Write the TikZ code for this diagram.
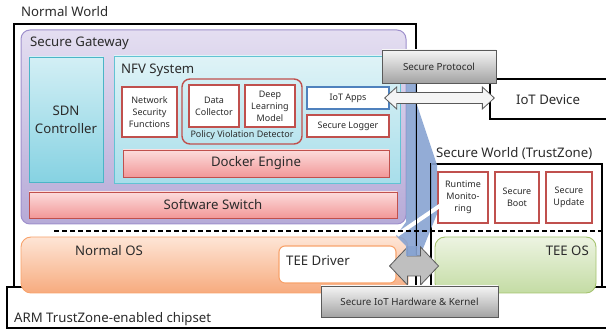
\documentclass[tikz,border=0pt]{standalone}
\usepackage{fontspec}
\setmainfont{Noto Sans}
\usetikzlibrary{calc}
\definecolor{textc}{HTML}{2B2B2B}
\definecolor{redc}{HTML}{C0504D}
\definecolor{bluec}{HTML}{4F81BD}
\definecolor{gwtop}{HTML}{E4DEF1}
\definecolor{gwbot}{HTML}{B6AAD7}
\definecolor{gwdraw}{HTML}{9E90CC}
\definecolor{sdntop}{HTML}{D3EFF5}
\definecolor{sdnbot}{HTML}{86D2E2}
\definecolor{sdndraw}{HTML}{4BB5C7}
\definecolor{nfvtop}{HTML}{DFF3F7}
\definecolor{nfvbot}{HTML}{A8DEEA}
\definecolor{nfvdraw}{HTML}{62C3D3}
\definecolor{pinktop}{HTML}{FCDCDC}
\definecolor{pinkbot}{HTML}{F29898}
\definecolor{ostop}{HTML}{FEE5D6}
\definecolor{osbot}{HTML}{F7AB7E}
\definecolor{osdraw}{HTML}{F8A36C}
\definecolor{greentop}{HTML}{EDF4E2}
\definecolor{greenbot}{HTML}{C4DCA4}
\definecolor{greendraw}{HTML}{A5C36F}
\definecolor{graytop}{HTML}{F5F5F5}
\definecolor{graybot}{HTML}{A3A3A3}
\definecolor{graydraw}{HTML}{5A5A5A}
\definecolor{bandc}{HTML}{87A3D1}
\begin{document}
\begin{tikzpicture}[x=1pt,y=-1pt,
  bigfont/.style={font=\fontsize{13.2}{18}\selectfont},
  smallfont/.style={font=\fontsize{9}{12}\selectfont},
  lbl/.style={bigfont, text=textc, inner sep=0pt},
  frame/.style={draw=black, line width=1.3pt, inner sep=0pt},
  redbox/.style={draw=redc, line width=1.4pt, fill=white, inner sep=0pt, align=center, smallfont, text=textc},
  graybox/.style={draw=graydraw, line width=0.8pt, top color=graytop, bottom color=graybot, inner sep=0pt, font=\fontsize{9.8}{12}\selectfont, text=textc},
  pinkbox/.style={draw=redc, line width=0.9pt, top color=pinktop, bottom color=pinkbot, inner sep=0pt, bigfont, text=textc}
]
\path[use as bounding box] (0,0) rectangle (606,331);
\clip (0,0) rectangle (606,331);

% frames
\node[frame, minimum width=613pt, minimum height=41pt] (chip) at (313.5,307.5) {};
\node[frame, minimum width=402pt, minimum height=263pt] (nw) at (215,155.5) {};
\node[frame, minimum width=171pt, minimum height=123pt] (sw) at (516.5,225.5) {};
\node[frame, fill=white, minimum width=130pt, minimum height=40pt] (iotdev) at (555,99) {};
\node[lbl, anchor=base] (iotdevtxt) at (548,105) {IoT Device};
\node[lbl, anchor=base west] (nwlbl) at (21,17) {Normal World};
\node[lbl, anchor=base west] (swlbl) at (436,158) {Secure World (TrustZone)};
\node[lbl, anchor=base west] (chiplbl) at (14,323) {ARM TrustZone-enabled chipset};

% secure gateway
\node[draw=gwdraw, line width=1pt, top color=gwtop, bottom color=gwbot, rounded corners=9pt, minimum width=385pt, minimum height=194pt, inner sep=0pt] (gw) at (213.5,127) {};
\node[lbl, anchor=base west] (gwlbl) at (30,47) {Secure Gateway};
\node[draw=sdndraw, line width=0.9pt, top color=sdntop, bottom color=sdnbot, minimum width=74pt, minimum height=125pt, inner sep=0pt, align=center, bigfont, text=textc] (sdn) at (66,119.5) {SDN\\Controller};
\node[draw=nfvdraw, line width=0.9pt, top color=nfvtop, bottom color=nfvbot, minimum width=286pt, minimum height=127pt, inner sep=0pt] (nfv) at (257,119.5) {};
\node[lbl, anchor=base west] (nfvlbl) at (121,74) {NFV System};
\node[redbox, minimum width=55pt, minimum height=50pt] (nsf) at (149.5,112) {Network\\Security\\Functions};
\node[draw=redc, line width=1.4pt, rounded corners=8pt, minimum width=120pt, minimum height=65pt, inner sep=0pt] (pvd) at (242,111.5) {};
\node[smallfont, text=textc, inner sep=0pt] (pvdlbl) at (242,135) {Policy Violation Detector};
\node[redbox, minimum width=50pt, minimum height=42pt] (dc) at (214,106) {Data\\Collector};
\node[redbox, minimum width=50pt, minimum height=42pt] (dlm) at (270,106) {Deep\\Learning\\Model};
\node[redbox, draw=bluec, minimum width=82pt, minimum height=22pt] (iotapps) at (348,98) {IoT Apps};
\node[redbox, minimum width=82pt, minimum height=22pt] (logger) at (348,126) {Secure Logger};
\node[pinkbox, minimum width=266pt, minimum height=27pt] (docker) at (256,163.5) {Docker Engine};
\node[pinkbox, minimum width=368pt, minimum height=26pt] (switch) at (213,205) {Software Switch};

% OS layer
\node[draw=osdraw, line width=0.9pt, top color=ostop, bottom color=osbot, rounded corners=10pt, minimum width=387pt, minimum height=56pt, inner sep=0pt] (nos) at (214.5,265) {};
\node[lbl, anchor=base west] (noslbl) at (75,256) {Normal OS};
\node[draw=osdraw, line width=1.1pt, fill=white, rounded corners=6pt, minimum width=117pt, minimum height=37pt, inner sep=0pt] (teedrv) at (337.5,264.5) {};
\node[lbl, anchor=base west] (teedrvlbl) at (286,266) {TEE Driver};
\node[draw=greendraw, line width=0.9pt, top color=greentop, bottom color=greenbot, rounded corners=10pt, minimum width=161pt, minimum height=56pt, inner sep=0pt] (teeos) at (515.5,265) {};
\node[lbl, anchor=base east] (teeoslbl) at (589,256) {TEE OS};

% secure world services
\node[redbox, minimum width=50pt, minimum height=51pt] (rm) at (463,197.5) {Runtime\\Monito-\\ring};
\node[redbox, minimum width=44pt, minimum height=51pt] (sb) at (517,197.5) {Secure\\Boot};
\node[redbox, minimum width=46pt, minimum height=51pt] (su) at (569,197.5) {Secure\\Update};

% blue link band
\fill[bandc, opacity=0.9] (406,83) -- (417,83) -- (417,105) -- (437,165) -- (437,214) -- (420,256) -- (406,256) -- (406,246) -- (396,236) -- (406,222) -- cycle;
\draw[white, line width=4pt] (397,235) -- (441,205);
\draw[line width=1.3pt] (nw.north east) -- (nw.south east);
\draw[line width=1.3pt] (sw.north west) -- (sw.south west);

% dashed boundary
\coordinate (dashL) at (54,231);
\coordinate (dashR) at (606,231);
\draw[line width=1.3pt, dash pattern=on 5pt off 3pt] (dashL) -- (dashR);

% arrow IoT Apps <-> IoT Device
\coordinate (a1L) at ($(iotapps.east)+(-5,0)$);
\coordinate (a1R) at ($(iotdev.west |- iotapps.east)+(5,0)$);
\path[draw=graydraw, line width=0.8pt, left color=graytop, middle color=graybot, right color=graytop]
  (a1L) -- ++(12,-11) -- ++(0,5.5) -- ($(a1R)+(-12,-5.5)$) -- ++(0,-5.5) -- (a1R)
  -- ++(-12,11) -- ++(0,-5.5) -- ($(a1L)+(12,5.5)$) -- ++(0,5.5) -- cycle;

% arrow TEE Driver <-> TEE OS
\coordinate (a2L) at ($(teedrv.east)+(-7,1.5)$);
\coordinate (a2R) at ($(teeos.west |- a2L)+(4,0)$);
\path[draw=graydraw, line width=0.8pt, left color=graybot!70, middle color=graytop, right color=graybot!70]
  (a2L) -- ++(18,-19) -- ++(0,9) -- ($(a2R)+(-18,-10)$) -- ++(0,-9) -- (a2R)
  -- ++(-18,19) -- ++(0,-9) -- ($(a2L)+(18,10)$) -- ++(0,9) -- cycle;
\fill[bandc, opacity=0.9] (406,246) rectangle (417,256);

% gray boxes
\node[graybox, minimum width=114pt, minimum height=33pt] (proto) at (439,66.5) {Secure Protocol};
\node[graybox, minimum width=177pt, minimum height=31pt] (hwk) at (409.5,301.5) {Secure IoT Hardware \& Kernel};
\end{tikzpicture}
\end{document}
